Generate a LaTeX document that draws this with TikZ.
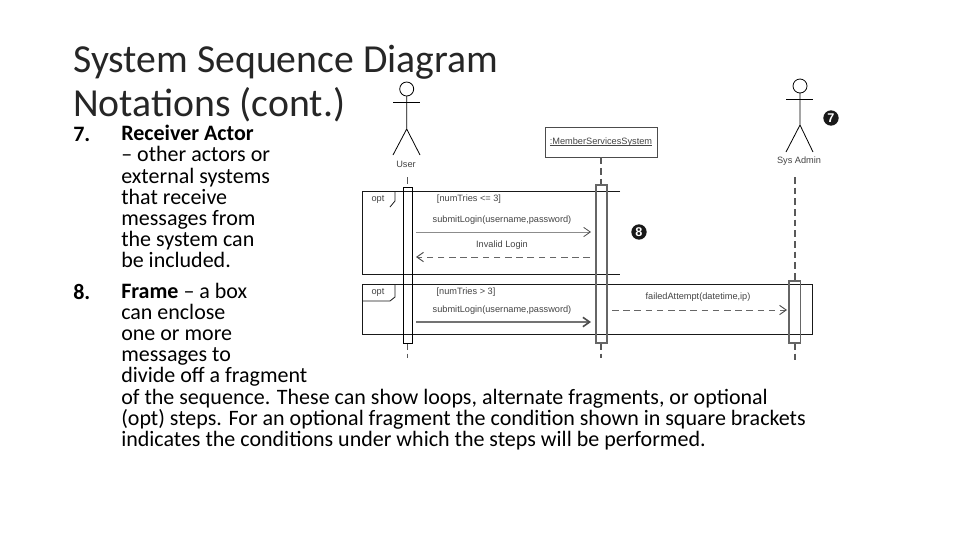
\documentclass[tikz,border=0pt]{standalone}
\usepackage{fontspec}
\setmainfont{Carlito}
\newfontfamily\diafont{Liberation Sans}
\usetikzlibrary{arrows.meta}
\definecolor{inkc}{HTML}{262626}
\definecolor{diatext}{HTML}{444444}
\newcommand\ulbl[1]{\setbox0\hbox{#1}\rlap{\rule[-1.2pt]{\wd0}{0.45pt}}\box0}
\tikzset{
  titletext/.style={anchor=north west,inner sep=0pt,align=left,font=\fontsize{29.8}{33}\selectfont,text=inkc},
  bodytext/.style={anchor=north west,inner sep=0pt,align=left,font=\fontsize{16.5}{15.9}\selectfont,text=black},
  numtext/.style={anchor=north west,inner sep=0pt,font=\fontsize{16.5}{15.9}\selectfont\bfseries,text=black},
  lbl/.style={inner sep=0pt,font=\diafont\fontsize{6.9}{8}\selectfont,text=diatext},
  actorline/.style={draw=black,line width=0.6pt},
  life/.style={draw=black!65,line width=1pt,dash pattern=on 5pt off 3pt},
  actbox/.style={draw=black,line width=0.6pt},
  actboxg/.style={draw=black!60,line width=1pt},
  frm/.style={draw=black!90,line width=0.6pt},
  msg/.style={draw=black!45,line width=0.6pt,-{Straight Barb[length=5pt,width=7pt,black!70]}},
  msgthick/.style={draw=black!55,line width=1.2pt,-{Straight Barb[length=5pt,width=7pt,black!70]}},
  ret/.style={draw=black!60,line width=0.7pt,dash pattern=on 5pt off 3.4pt,-{Straight Barb[length=5pt,width=7pt,black!70]}},
  badge/.style={circle,fill=black!90,minimum size=11.5pt,inner sep=0pt,text=white,font=\diafont\bfseries\fontsize{9.5}{9.5}\selectfont},
}
\begin{document}
\begin{tikzpicture}[x=0.75pt,y=-0.75pt]
\useasboundingbox (0,0) rectangle (960,540);
\fill[white] (0,0) rectangle (960,540);
% title and text
\node[titletext] (title) at (73,44.5) {System Sequence Diagram\\Notations (cont.)};
\node[numtext] (n7) at (73,127) {7.};
\node[bodytext] (t7) at (121,125) {\textbf{Receiver Actor}\\– other actors or\\external systems\\that receive\\messages from\\the system can\\be included.};
\node[numtext] (n8) at (73,284.5) {8.};
\node[bodytext] (t8) at (121,282.5) {\textbf{Frame} – a box\\can enclose\\one or more\\messages to\\divide off a fragment\\of the sequence. These can show loops, alternate fragments, or optional\\(opt) steps. For an optional fragment the condition shown in square brackets\\indicates the conditions under which the steps will be performed.};
% user actor
\draw[actorline] (406.7,89) circle (7);
\draw[actorline] (393,102) -- (420,102);
\draw[actorline] (406.7,96) -- (406.7,129) -- (393,155) (406.7,129) -- (420,155);
\node[lbl] (user) at (406,164) {User};
% sys admin actor
\draw[actorline] (800,86) circle (7);
\draw[actorline] (786,99) -- (813,99);
\draw[actorline] (800,93) -- (800,125) -- (786,152) (800,125) -- (813,152);
\node[lbl] (admin) at (799,161) {Sys Admin};
% system
\node[draw=black!70,line width=0.7pt,minimum width=84pt,minimum height=22.5pt,inner sep=0pt] (sys) at (601,142) {\diafont\fontsize{6.9}{8}\selectfont\color{diatext}\ulbl{:MemberServicesSystem}};
% lifelines
\coordinate (u1) at (407.5,177); \coordinate (u2) at (407.5,187);
\coordinate (u3) at (407.5,343); \coordinate (u4) at (407.5,358);
\coordinate (s2) at (601,185); \coordinate (s3) at (601,343); \coordinate (s4) at (601,358);
\coordinate (a1) at (795,177); \coordinate (a2) at (795,281);
\coordinate (a3) at (795,343); \coordinate (a4) at (795,360);
\draw[life] (u1) -- (u2);
\draw[life] (u3) -- (u4);
\draw[life] (sys.south) -- (s2);
\draw[life] (s3) -- (s4);
\draw[life] (a1) -- (a2);
\draw[life] (a3) -- (a4);
% frames
\draw[frm] (620,191) -- (362,191) -- (362,274) -- (620,274);
\draw[frm] (395,191) -- (395,201) -- (390,207);
\draw[frm] (362,284) rectangle (812,334);
\draw[frm] (362,301) -- (390,301) -- (395,297) -- (395,284);
% activation boxes
\draw[actbox] (403,187) rectangle (412,343);
\draw[actboxg] (596,185) rectangle (607,343);
\draw[actboxg] (789,281) rectangle (800.5,343);
% labels
\node[lbl] (o1) at (378,199) {opt};
\node[lbl] (c1) at (469,199) {[numTries <= 3]};
\node[lbl] (m1) at (502,220) {submitLogin(username,password)};
\node[lbl] (m2) at (502,245) {Invalid Login};
\node[lbl] (o2) at (378,292) {opt};
\node[lbl] (c2) at (466,292) {[numTries > 3]};
\node[lbl] (m3) at (502,310) {submitLogin(username,password)};
\node[lbl] (m4) at (698,297) {failedAttempt(datetime,ip)};
% message ends
\coordinate (p1) at (416,232); \coordinate (p2) at (591,232);
\coordinate (p3) at (590,257); \coordinate (p4) at (416,257);
\coordinate (p5) at (416,322); \coordinate (p6) at (591,322);
\coordinate (p7) at (612,310); \coordinate (p8) at (787,310);
\draw[msg] (p1) -- (p2);
\draw[ret] (p3) -- (p4);
\draw[msgthick] (p5) -- (p6);
\draw[ret] (p7) -- (p8);
% badges
\node[badge] (b7) at (831,118) {7};
\node[badge] (b8) at (639,232) {8};
\end{tikzpicture}
\end{document}
